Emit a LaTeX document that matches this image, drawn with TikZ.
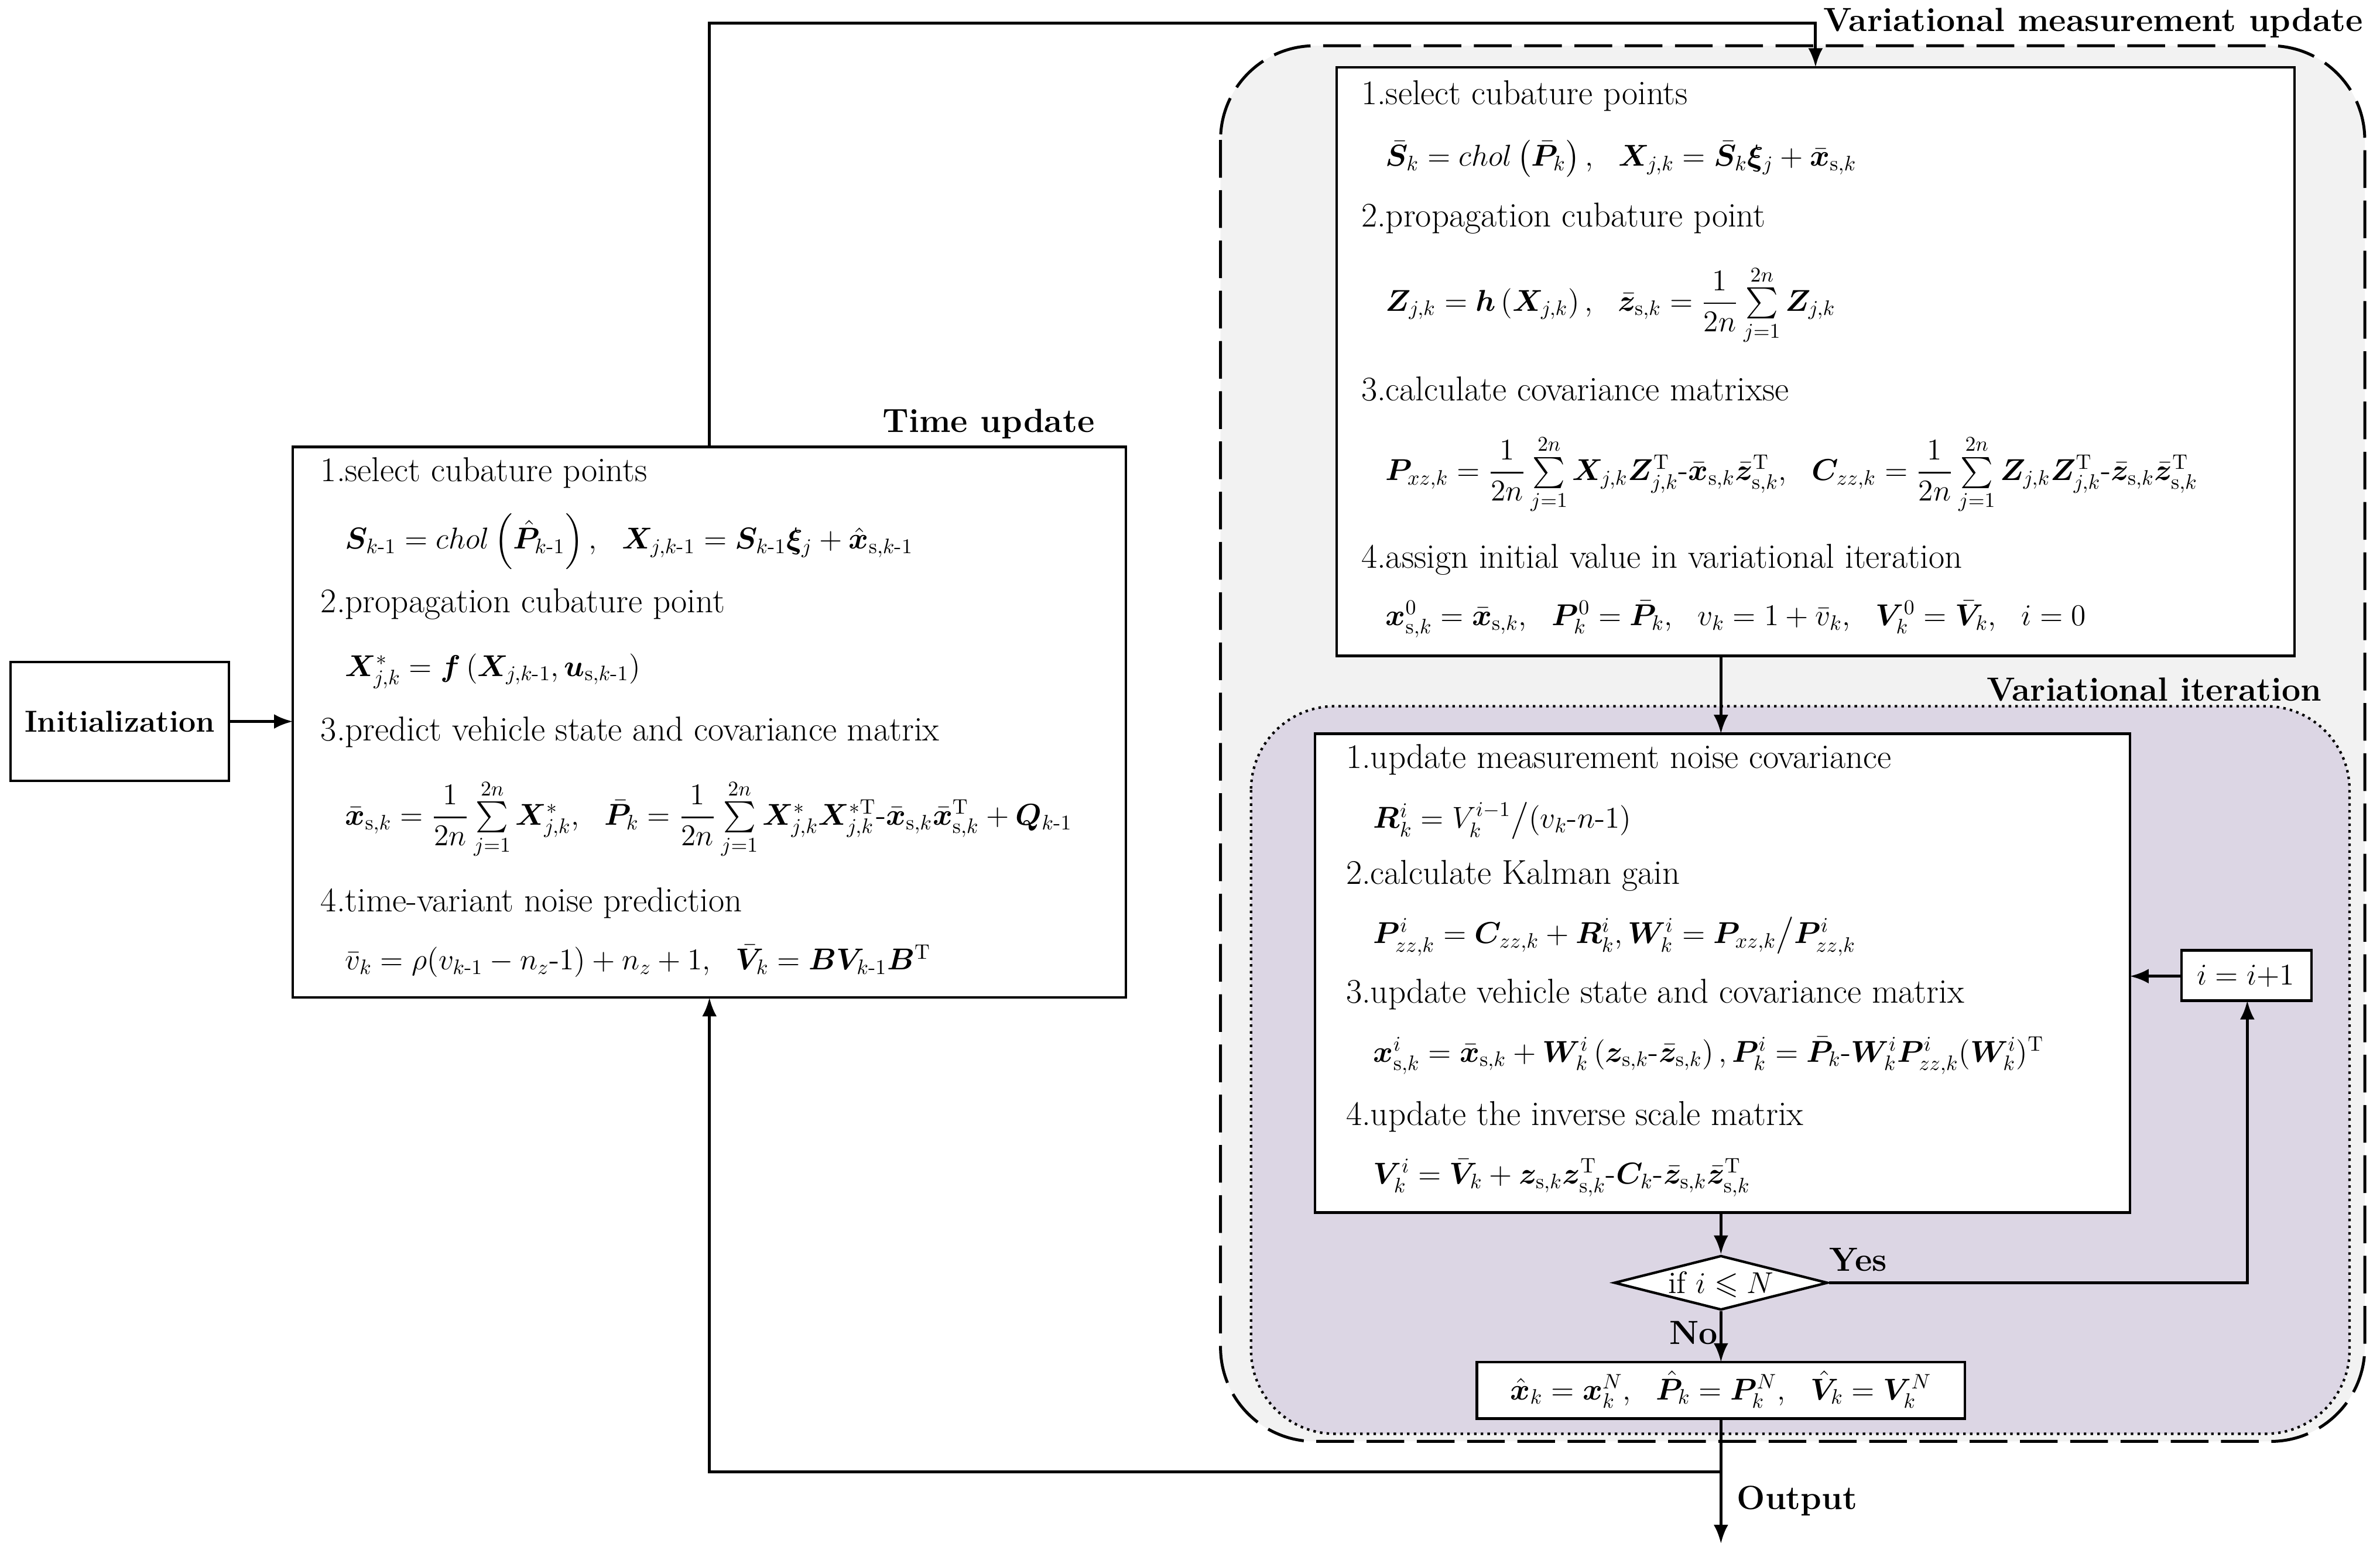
\documentclass[tikz,border=0pt]{standalone}
\usepackage{amsmath,amssymb,bm}
\usetikzlibrary{shapes.geometric,arrows.meta}
\definecolor{bggray}{HTML}{F2F2F2}
\definecolor{lav}{HTML}{DCD6E4}
\newcommand{\bb}[1]{\bm{#1}}
\newcommand{\mi}{\text{-}}
\begin{document}
\begin{tikzpicture}[x=0.0256cm,y=-0.0256cm,
  txt/.style={anchor=west,inner sep=0pt,font=\fontsize{16.5}{18}\selectfont},
  fml/.style={anchor=west,inner sep=0pt,font=\fontsize{14.8}{17}\selectfont},
  lbl/.style={inner sep=0pt,font=\fontsize{16}{18}\selectfont\bfseries},
  box/.style={draw,line width=1.2pt,fill=white},
  arr/.style={line width=1.4pt,-{Latex[length=9pt,width=7pt]}},
  ln/.style={line width=1.4pt}]
\useasboundingbox (0,0) rectangle (1560,1016);
% regions
\draw[dash pattern=on 18pt off 6pt,line width=1.4pt,fill=bggray,rounded corners=45pt] (800,30) rectangle (1550,945);
\draw[dotted,line width=1.2pt,fill=lav,rounded corners=40pt] (820,463) rectangle (1540,940);
\node[lbl] (lvmu) at (1372,15) {Variational measurement update};
\node[lbl] (lvi) at (1412,452) {Variational iteration};
\node[lbl] (ltu) at (648,278) {Time update};
% boxes
\draw[box] (7,434) rectangle (150,512);
\node[lbl,font=\fontsize{14.5}{17}\selectfont\bfseries] (tinit) at (78.5,473) {Initialization};
\draw[box] (192,293) rectangle (738,654);
\draw[box] (876,44) rectangle (1504,430);
\draw[box] (862,481) rectangle (1396,795);
\draw[box] (1430,623) rectangle (1515,656);
\draw[box] (968,893) rectangle (1288,930);
\node[draw,line width=1.2pt,fill=white,diamond,aspect=3.9,minimum width=102pt,minimum height=26pt,inner sep=0pt] (dia) at (1128,841) {};
\node[fml,anchor=center] (dtxt) at (1128,842) {if $i\leqslant N$};
\node[fml,anchor=center] (inc) at (1472,640) {$i=i{+}1$};
\node[fml,anchor=center] (fin) at (1128,911) {$\hat{\bb x}_k=\bb x_k^N,\ \ \hat{\bb P}_k=\bb P_k^N,\ \ \hat{\bb V}_k=\bb V_k^N$};
% time update text
\node[txt] (t1) at (210,310) {1.select cubature points};
\node[fml] (t1f) at (226,355) {$\bb S_{k\mi1}=chol\left(\hat{\bb P}_{k\mi1}\right),\ \ \bb X_{j,k\mi1}=\bb S_{k\mi1}\bb\xi_j+\hat{\bb x}_{\mathrm s,k\mi1}$};
\node[txt] (t2) at (210,396) {2.propagation cubature point};
\node[fml] (t2f) at (226,440) {$\bb X^*_{j,k}=\bb f\left(\bb X_{j,k\mi1},\bb u_{\mathrm s,k\mi1}\right)$};
\node[txt] (t3) at (210,480) {3.predict vehicle state and covariance matrix};
\node[fml] (t3f) at (226,537) {$\bar{\bb x}_{\mathrm s,k}=\dfrac{1}{2n}\sum\limits_{j=1}^{2n}\bb X^*_{j,k},\ \ \bar{\bb P}_k=\dfrac{1}{2n}\sum\limits_{j=1}^{2n}\bb X^*_{j,k}\bb X^{*\mathrm T}_{j,k}\mi\bar{\bb x}_{\mathrm s,k}\bar{\bb x}^{\mathrm T}_{\mathrm s,k}+\bb Q_{k\mi1}$};
\node[txt] (t4) at (210,592) {4.time-variant noise prediction};
\node[fml] (t4f) at (226,630) {$\bar v_k=\rho(v_{k\mi1}-n_z\mi1)+n_z+1,\ \ \bar{\bb V}_k=\bb B\bb V_{k\mi1}\bb B^{\mathrm T}$};
% top box text
\node[txt] (u1) at (892,63) {1.select cubature points};
\node[fml] (u1f) at (908,104) {$\bar{\bb S}_k=chol\left(\bar{\bb P}_k\right),\ \ \bb X_{j,k}=\bar{\bb S}_k\bb\xi_j+\bar{\bb x}_{\mathrm s,k}$};
\node[txt] (u2) at (892,143) {2.propagation cubature point};
\node[fml] (u2f) at (908,200) {$\bb Z_{j,k}=\bb h\left(\bb X_{j,k}\right),\ \ \bar{\bb z}_{\mathrm s,k}=\dfrac{1}{2n}\sum\limits_{j=1}^{2n}\bb Z_{j,k}$};
\node[txt] (u3) at (892,255) {3.calculate covariance matrixse};
\node[fml] (u3f) at (908,311) {$\bb P_{xz,k}=\dfrac{1}{2n}\sum\limits_{j=1}^{2n}\bb X_{j,k}\bb Z^{\mathrm T}_{j,k}\mi\bar{\bb x}_{\mathrm s,k}\bar{\bb z}^{\mathrm T}_{\mathrm s,k},\ \ \bb C_{zz,k}=\dfrac{1}{2n}\sum\limits_{j=1}^{2n}\bb Z_{j,k}\bb Z^{\mathrm T}_{j,k}\mi\bar{\bb z}_{\mathrm s,k}\bar{\bb z}^{\mathrm T}_{\mathrm s,k}$};
\node[txt] (u4) at (892,367) {4.assign initial value in variational iteration};
\node[fml] (u4f) at (908,406) {$\bb x^0_{\mathrm s,k}=\bar{\bb x}_{\mathrm s,k},\ \ \bb P^0_k=\bar{\bb P}_k,\ \ v_k=1+\bar v_k,\ \ \bb V^0_k=\bar{\bb V}_k,\ \ i=0$};
% iteration box text
\node[txt] (v1) at (882,498) {1.update measurement noise covariance};
\node[fml] (v1f) at (900,538) {$\bb R^i_k=V^{i-1}_k\big/(v_k\mi n\mi1)$};
\node[txt] (v2) at (882,574) {2.calculate Kalman gain};
\node[fml] (v2f) at (900,614) {$\bb P^i_{zz,k}=\bb C_{zz,k}+\bb R^i_k,\bb W^i_k=\bb P_{xz,k}\big/\bb P^i_{zz,k}$};
\node[txt] (v3) at (882,652) {3.update vehicle state and covariance matrix};
\node[fml] (v3f) at (900,692) {$\bb x^i_{\mathrm s,k}=\bar{\bb x}_{\mathrm s,k}+\bb W^i_k\left(\bb z_{\mathrm s,k}\mi\bar{\bb z}_{\mathrm s,k}\right),\bb P^i_k=\bar{\bb P}_k\mi\bb W^i_k\bb P^i_{zz,k}(\bb W^i_k)^{\mathrm T}$};
\node[txt] (v4) at (882,732) {4.update the inverse scale matrix};
\node[fml] (v4f) at (900,772) {$\bb V^i_k=\bar{\bb V}_k+\bb z_{\mathrm s,k}\bb z^{\mathrm T}_{\mathrm s,k}\mi\bb C_k\mi\bar{\bb z}_{\mathrm s,k}\bar{\bb z}^{\mathrm T}_{\mathrm s,k}$};
% coordinates
\coordinate (a1) at (465,293); \coordinate (a2) at (465,15); \coordinate (a3) at (1190,15); \coordinate (a4) at (1190,44);
\coordinate (b1) at (1128,430); \coordinate (b2) at (1128,481);
\coordinate (c1) at (1128,795);
\coordinate (d2) at (1473,841); \coordinate (d3) at (1473,656);
\coordinate (e1) at (1430,640); \coordinate (e2) at (1396,640);
\coordinate (f1) at (1128,930); \coordinate (f2) at (1128,965); \coordinate (f3) at (1128,1012);
\coordinate (g1) at (465,965); \coordinate (g2) at (465,654);
\coordinate (h1) at (150,473); \coordinate (h2) at (192,473);
\coordinate (k1) at (1128,893);
% connectors
\draw[arr] (h1) -- (h2);
\draw[arr] (a1) -- (a2) -- (a3) -- (a4);
\draw[arr] (b1) -- (b2);
\draw[arr] (c1) -- (dia.north);
\draw[arr] (dia.east) -- (d2) -- (d3);
\draw[arr] (e1) -- (e2);
\draw[arr] (dia.south) -- (k1);
\draw[arr] (f1) -- (f3);
\draw[arr] (f2) -- (g1) -- (g2);
\node[lbl] (yes) at (1218,826) {Yes};
\node[lbl] (no) at (1110,874) {No};
\node[lbl] (out) at (1178,984) {Output};
\end{tikzpicture}
\end{document}
